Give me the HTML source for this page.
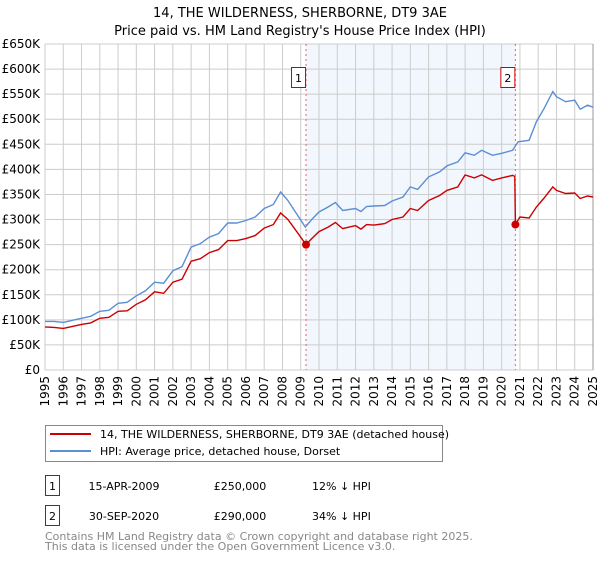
<!DOCTYPE html>
<html><head><meta charset="utf-8"><style>
body{margin:0;background:#fff;font-family:"DejaVu Sans","Liberation Sans",sans-serif;}
svg text{font-family:"DejaVu Sans","Liberation Sans",sans-serif;}
</style></head><body>
<svg id="chart" width="600" height="560" xmlns="http://www.w3.org/2000/svg">
<text x="300" y="17" text-anchor="middle" font-size="13" fill="#000">14, THE WILDERNESS, SHERBORNE, DT9 3AE</text>
<text x="300" y="35" text-anchor="middle" font-size="13" fill="#000">Price paid vs. HM Land Registry's House Price Index (HPI)</text>
<g id="plot"></g>
<g>
<rect x="45.5" y="425.5" width="397" height="36" fill="#fff" stroke="#888"/>
<line x1="50" y1="434" x2="91" y2="434" stroke="#cc0000" stroke-width="2"/>
<text x="100" y="438" font-size="11">14, THE WILDERNESS, SHERBORNE, DT9 3AE (detached house)</text>
<line x1="50" y1="451" x2="91" y2="451" stroke="#5b8fd4" stroke-width="2"/>
<text x="100" y="455" font-size="11">HPI: Average price, detached house, Dorset</text>
</g>
<g font-size="11">
<rect x="45.5" y="475.5" width="14" height="20" fill="#fff" stroke="#cc0000"/>
<text x="52.5" y="490" text-anchor="middle">1</text>
<text x="124" y="490" text-anchor="middle">15-APR-2009</text>
<text x="240" y="490" text-anchor="middle">£250,000</text>
<text x="312" y="490">12% ↓ HPI</text>
<rect x="45.5" y="505.5" width="14" height="20" fill="#fff" stroke="#cc0000"/>
<text x="52.5" y="520" text-anchor="middle">2</text>
<text x="124" y="520" text-anchor="middle">30-SEP-2020</text>
<text x="240" y="520" text-anchor="middle">£290,000</text>
<text x="312" y="520">34% ↓ HPI</text>
</g>
<text x="45" y="540" font-size="11" fill="#888">Contains HM Land Registry data © Crown copyright and database right 2025.</text>
<text x="45" y="550" font-size="11" fill="#888">This data is licensed under the Open Government Licence v3.0.</text>
</svg>
<script>
const hpiYears=[1995,1995.5,1996,1996.5,1997,1997.5,1998,1998.5,1999,1999.5,2000,2000.5,2001,2001.5,2002,2002.5,2003,2003.5,2004,2004.5,2005,2005.5,2006,2006.5,2007,2007.5,2007.9,2008.3,2008.8,2009.25,2009.6,2010,2010.5,2010.9,2011.3,2012,2012.3,2012.6,2013,2013.6,2014,2014.6,2015,2015.4,2016,2016.6,2017,2017.6,2018,2018.5,2018.9,2019.5,2020,2020.6,2020.9,2021.5,2021.9,2022.3,2022.8,2023,2023.5,2024,2024.3,2024.7,2025];
const hpiValues=[97,97,95,99,103,107,117,119,133,135,148,158,175,173,198,206,245,252,265,272,293,293,298,305,322,330,355,338,310,285,300,315,325,334,318,322,316,326,327,328,337,345,365,360,385,395,407,415,433,428,438,428,432,438,455,458,495,520,555,545,535,538,520,528,524];
const ppYears=[1995,1995.5,1996,1996.5,1997,1997.5,1998,1998.5,1999,1999.5,2000,2000.5,2001,2001.5,2002,2002.5,2003,2003.5,2004,2004.5,2005,2005.5,2006,2006.5,2007,2007.5,2007.9,2008.3,2008.8,2009.29,2009.6,2010,2010.5,2010.9,2011.3,2012,2012.3,2012.6,2013,2013.6,2014,2014.6,2015,2015.4,2016,2016.6,2017,2017.6,2018,2018.5,2018.9,2019.5,2020,2020.6,2020.72,2020.75,2021.0,2021.5,2021.9,2022.3,2022.8,2023,2023.5,2024,2024.3,2024.7,2025];
const ppValues=[86,85,83,87,91,94,103,105,117,118,131,140,156,153,175,181,217,222,234,240,258,258,262,268,283,290,313,300,275,250,262,276,285,294,282,288,281,290,289,292,300,305,322,318,338,348,358,365,389,383,389,378,383,388,386,290,305,303,325,342,365,358,352,353,342,347,345];
const saleYears=[2009.29,2020.75];
const saleValues=[250,290];
const saleLabels=["1","2"];
const yTicks=[0,50,100,150,200,250,300,350,400,450,500,550,600,650];
const xTicks=[1995,1996,1997,1998,1999,2000,2001,2002,2003,2004,2005,2006,2007,2008,2009,2010,2011,2012,2013,2014,2015,2016,2017,2018,2019,2020,2021,2022,2023,2024,2025];

const NS="http://www.w3.org/2000/svg";
const X0=45,X1=593,Y0=370,Y1=44;
const xs=y=>X0+(y-1995)/30*(X1-X0);
const ys=v=>Y0-v/650*(Y0-Y1);
const plot=document.getElementById('plot');
function mk(tag,attrs,parent){const e=document.createElementNS(NS,tag);for(const k in attrs)e.setAttribute(k,attrs[k]);(parent||plot).appendChild(e);return e;}

const shade=mk('rect',{x:xs(saleYears[0]),y:Y1,width:xs(saleYears[1])-xs(saleYears[0]),height:Y0-Y1,fill:'#f2f6fd'});



yTicks.forEach(v=>{
 const l=mk('line',{x1:X0,x2:X1,y1:ys(v),y2:ys(v),stroke:'#cccccc','stroke-width':1});
 
 
 const t=mk('text',{x:X0-5,y:ys(v)+4,'text-anchor':'end','font-size':12,fill:'#000'});
 t.textContent=v===0?'£0':'£'+v+'K';
 
 
});
xTicks.forEach(y=>{
 const l=mk('line',{x1:xs(y),x2:xs(y),y1:Y1,y2:Y0,stroke:'#cccccc','stroke-width':1});
 
 
 const t=mk('text',{x:0,y:0,'text-anchor':'end','font-size':12,fill:'#000',transform:`translate(${xs(y)+4},${Y0+6}) rotate(-90)`});
 t.textContent=y;
 
 
});
const rb=mk('line',{x1:X1,x2:X1,y1:Y1,y2:Y0,stroke:'#999','stroke-width':1});



saleYears.forEach((y,i)=>{
 const l=mk('line',{x1:xs(y),x2:xs(y),y1:Y1,y2:Y0,stroke:'#e06666','stroke-width':1,'stroke-dasharray':'2,3'});
 
 
});

function path(xa,va){return xa.map((y,i)=>(i?'L':'M')+xs(y).toFixed(1)+','+ys(va[i]).toFixed(1)).join('');}
const hp=mk('path',{d:path(hpiYears,hpiValues),fill:'none',stroke:'#5b8fd4','stroke-width':1.4});


const pp=mk('path',{d:path(ppYears,ppValues),fill:'none',stroke:'#cc0000','stroke-width':1.4});



saleYears.forEach((y,i)=>{
 const c=mk('circle',{cx:xs(y),cy:ys(saleValues[i]),r:4,fill:'#cc0000'});
 
 
 const b=mk('rect',{x:xs(y)-14.5,y:67.5,width:14,height:20,fill:'#fff',stroke:'#cc0000'});
 
 
 const t=mk('text',{x:xs(y)-7.5,y:82,'text-anchor':'middle','font-size':11});
 t.textContent=saleLabels[i];
 
 
});
</script>
</body></html>
